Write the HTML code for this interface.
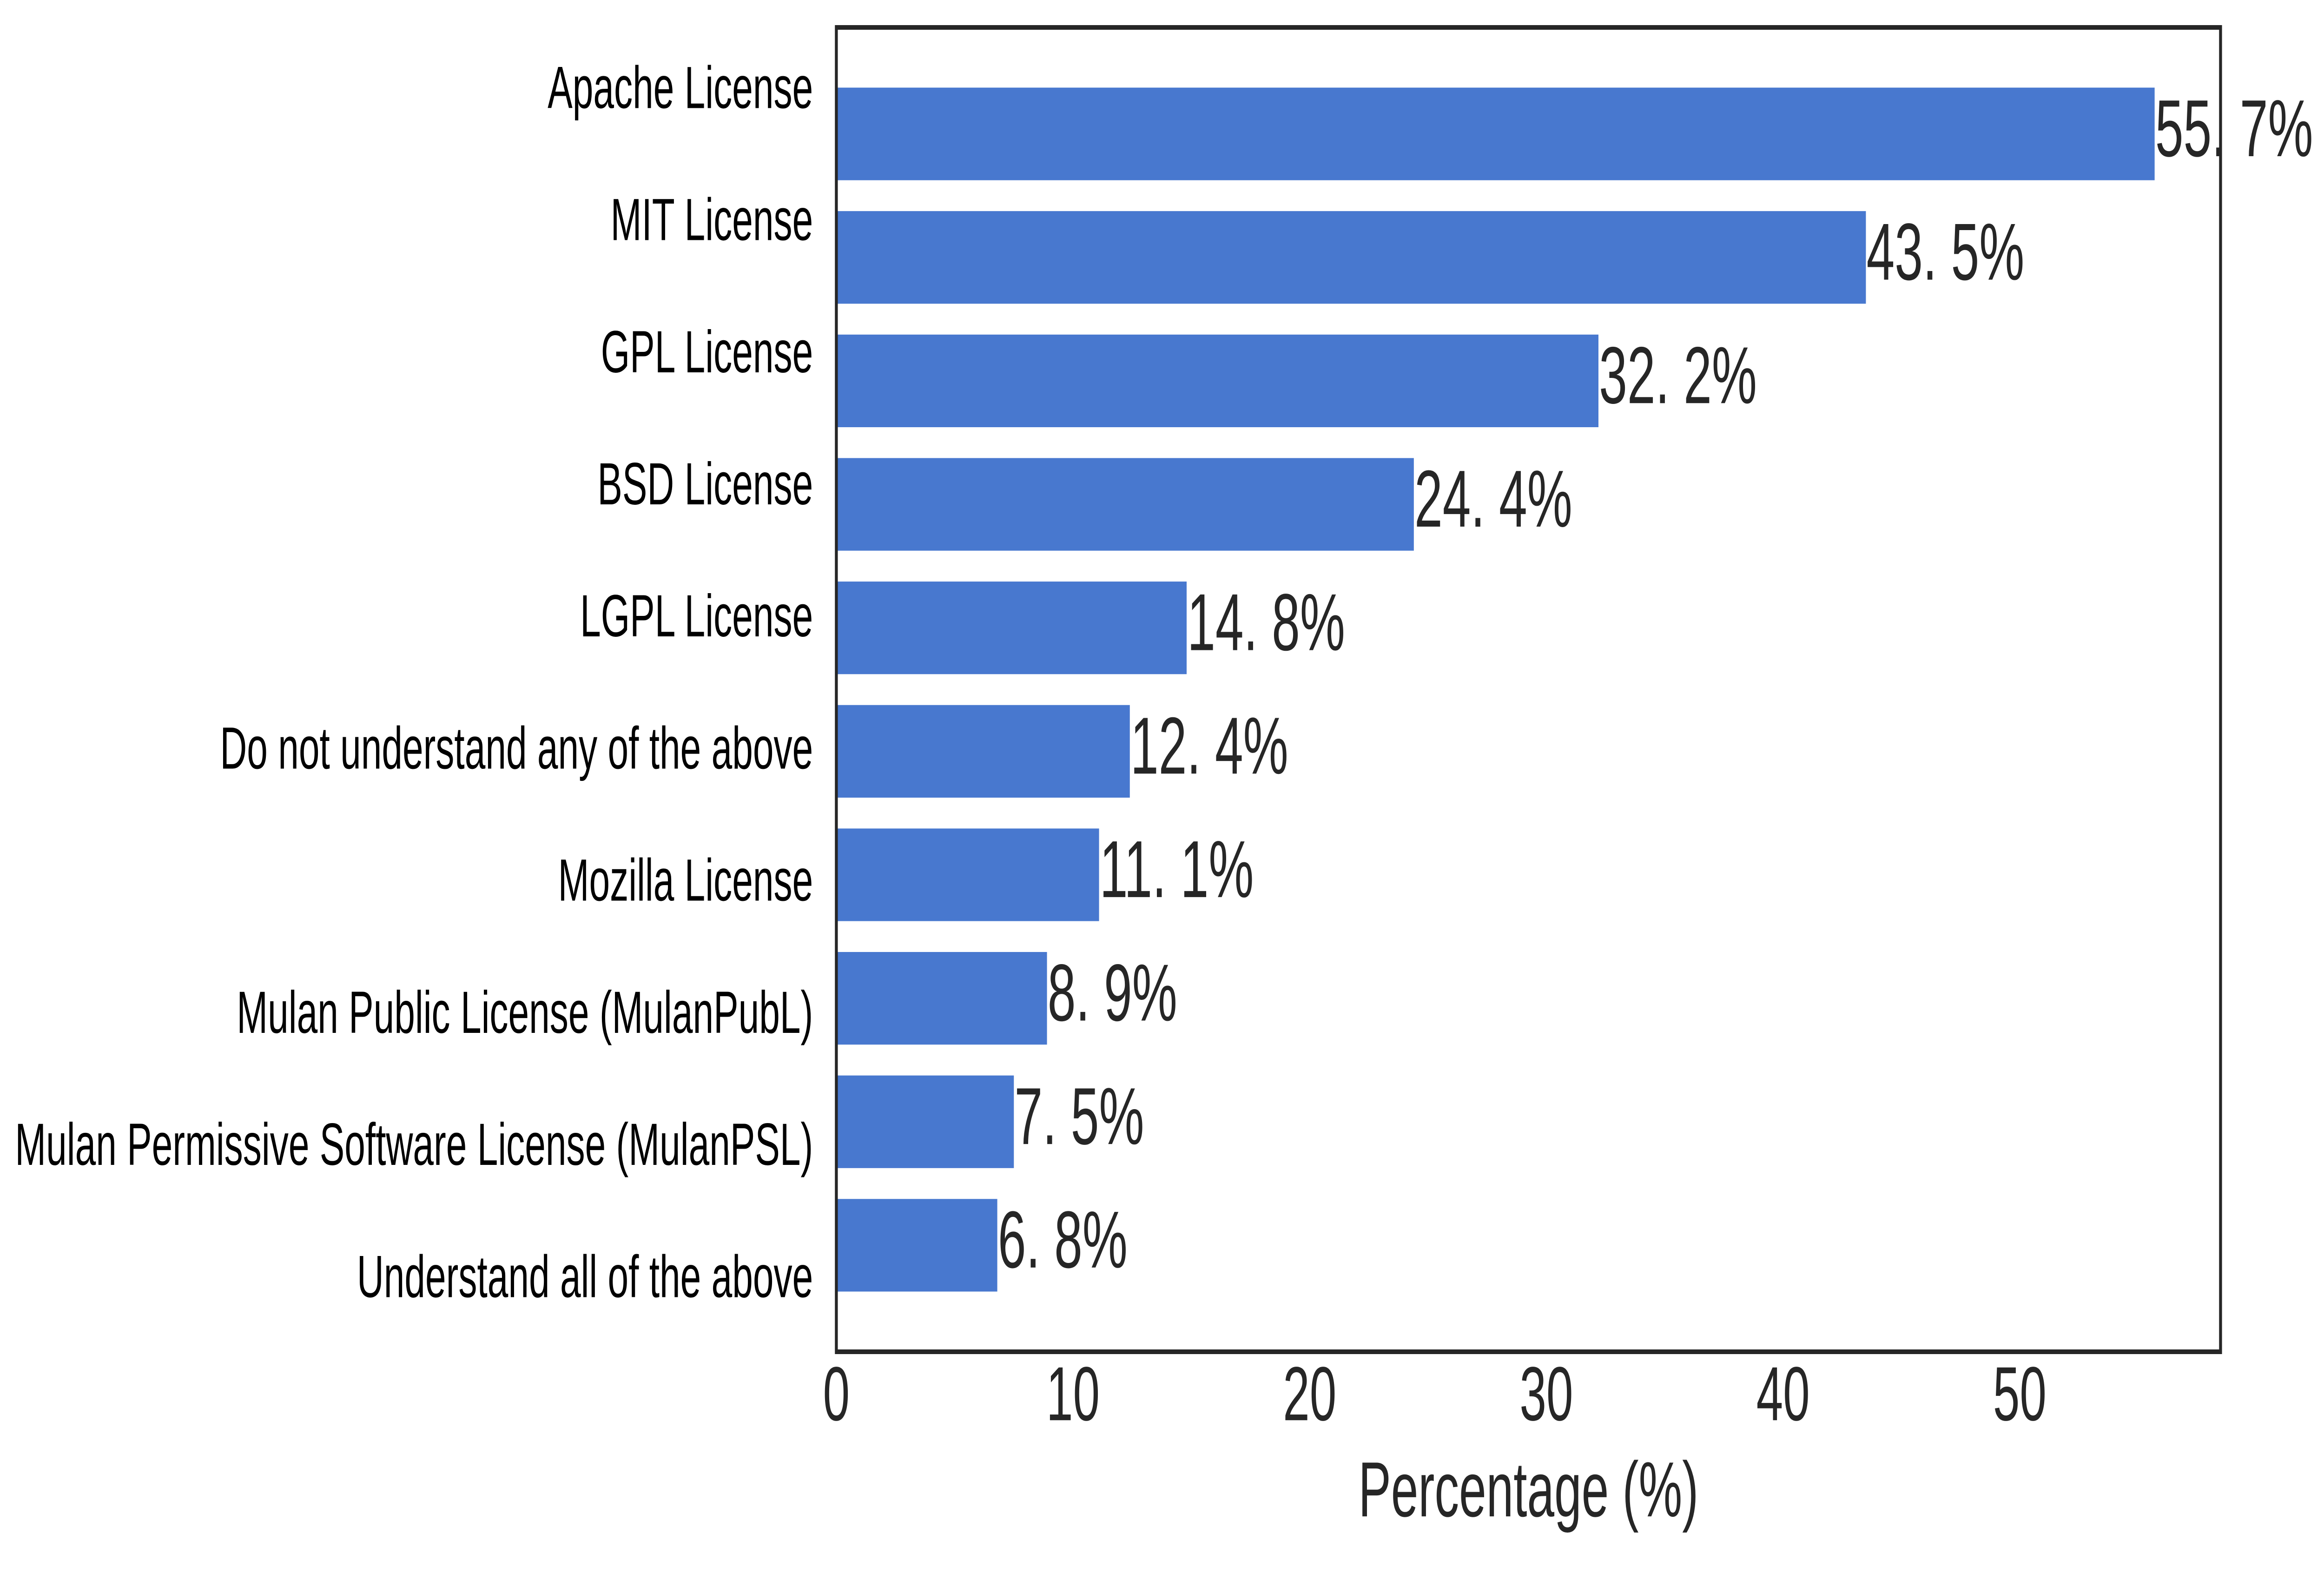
<!DOCTYPE html>
<html><head><meta charset="utf-8"><style>
html,body{margin:0;padding:0;background:#fff;width:100%;height:100%;overflow:hidden;}
svg{display:block;width:100vw;height:100vh;}
</style></head><body>
<svg id="chart" viewBox="0 0 7975 3399" preserveAspectRatio="none" xmlns="http://www.w3.org/2000/svg">
<rect x="0" y="0" width="7975" height="3399" fill="#fff"/>
<g id="bars"></g>
<g id="ylabels"></g>
<g id="values"></g>
<g id="xticks"></g>
<rect x="2870" y="59" width="4750" height="2849" fill="none" stroke="#262626" stroke-width="10"/>
<text x="5245" y="3204" font-family="Liberation Sans, sans-serif" font-size="168" fill="#262626" text-anchor="middle" dominant-baseline="central">Percentage (%)</text>
</svg>
<script>
const categories = ["Apache License","MIT License","GPL License","BSD License","LGPL License","Do not understand any of the above","Mozilla License","Mulan Public License (MulanPubL)","Mulan Permissive Software License (MulanPSL)","Understand all of the above"];
const values = [55.7, 43.5, 32.2, 24.4, 14.8, 12.4, 11.1, 8.9, 7.5, 6.8];
const valueLabels = ["55. 7%","43. 5%","32. 2%","24. 4%","14. 8%","12. 4%","11. 1%","8. 9%","7. 5%","6. 8%"];
const xTicks = [0, 10, 20, 30, 40, 50];

const NS = "http://www.w3.org/2000/svg";
const L = 2870, R = 7620, T = 59, B = 2908;
const xMax = Math.max(...values) * 1.05;
function xs(v){ return L + v / xMax * (R - L); }
const n = categories.length;
const barH = 0.75;
const span = (n - 1) + barH;
const unit = (B - T) / (span * 1.1);
function ys(i){ return T + (span * 0.05 + barH / 2 + i) * unit; }
function labelY(i){ return 188 + i * (2746 - 188) / (n - 1); }

const gb = document.getElementById('bars');
const gl = document.getElementById('ylabels');
const gv = document.getElementById('values');
const gx = document.getElementById('xticks');

values.forEach((v, i) => {
  const r = document.createElementNS(NS, 'rect');
  r.setAttribute('x', xs(0));
  r.setAttribute('y', ys(i) - barH * unit / 2);
  r.setAttribute('width', xs(v) - xs(0));
  r.setAttribute('height', barH * unit);
  r.setAttribute('fill', '#4878cf');
  
  
  gb.appendChild(r);

  const t = document.createElementNS(NS, 'text');
  t.setAttribute('x', xs(v) + 2);
  t.setAttribute('y', ys(i) - 12);
  t.setAttribute('font-family', 'Liberation Sans, sans-serif');
  t.setAttribute('font-size', '174');
  t.setAttribute('fill', '#262626');
  t.setAttribute('dominant-baseline', 'central');
  t.textContent = valueLabels[i];
  
  
  gv.appendChild(t);

  const c = document.createElementNS(NS, 'text');
  c.setAttribute('x', 2790);
  c.setAttribute('y', labelY(i));
  c.setAttribute('font-family', 'Liberation Sans, sans-serif');
  c.setAttribute('font-size', '128');
  c.setAttribute('fill', '#000');
  c.setAttribute('text-anchor', 'end');
  c.setAttribute('dominant-baseline', 'central');
  c.textContent = categories[i];
  
  
  gl.appendChild(c);
});

xTicks.forEach(tv => {
  const t = document.createElementNS(NS, 'text');
  t.setAttribute('x', xs(tv));
  t.setAttribute('y', 2999);
  t.setAttribute('font-family', 'Liberation Sans, sans-serif');
  t.setAttribute('font-size', '165');
  t.setAttribute('fill', '#262626');
  t.setAttribute('text-anchor', 'middle');
  t.setAttribute('dominant-baseline', 'central');
  t.textContent = String(tv);
  
  
  gx.appendChild(t);
});
</script>
</body></html>
